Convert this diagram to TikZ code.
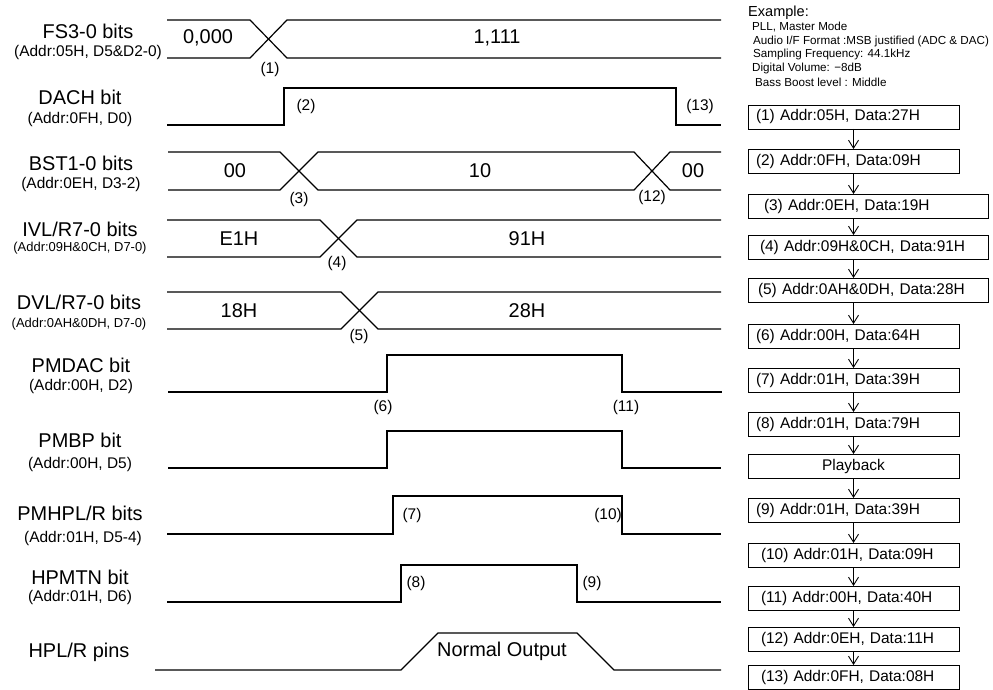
\documentclass[tikz,border=0pt]{standalone}
\usepackage{fontspec}
\setmainfont{Liberation Sans}
\usetikzlibrary{arrows.meta,positioning}

\begin{document}
\begin{tikzpicture}[x=1bp, y=-1bp]
  \tikzstyle{sig} = [line width=1.2bp]
  \tikzstyle{signame} = [font=\fontsize{20}{24}\selectfont, inner sep=0pt]
  \tikzstyle{sigaddr} = [font=\fontsize{15.5}{18}\selectfont, inner sep=0pt]
  \tikzstyle{sigaddrs} = [font=\fontsize{13}{16}\selectfont, inner sep=0pt]
  \tikzstyle{busval} = [font=\fontsize{20}{24}\selectfont, inner sep=0pt]
  \tikzstyle{stepno} = [font=\fontsize{15.5}{18}\selectfont, inner sep=0pt]
  \tikzstyle{exline} = [font=\fontsize{11.7}{14}\selectfont, anchor=west, inner sep=0pt]
  \tikzstyle{regbox} = [draw, line width=0.9bp, outer sep=0pt, minimum height=24bp, text width=195bp, text height=11bp, text depth=3bp, align=left, inner xsep=8bp, inner ysep=0pt, font=\fontsize{15.5}{18}\selectfont]
  \tikzstyle{widebox} = [regbox, text width=224bp]
  \tikzstyle{flow} = [draw, line width=0.9bp, -{Straight Barb[length=8bp,width=10bp]}]

  \useasboundingbox (0,0) rectangle (993,690);

  % signal names
  \node[signame] (fsn) at (88,31) {FS3-0 bits};
  \node[sigaddr] (fsa) at (88,53) {(Addr:05H, D5\&D2-0)};
  \node[signame] (dachn) at (80,97) {DACH bit};
  \node[sigaddr] (dacha) at (80,120) {(Addr:0FH, D0)};
  \node[signame] (bstn) at (81,163) {BST1-0 bits};
  \node[sigaddr] (bsta) at (81,185) {(Addr:0EH, D3-2)};
  \node[signame] (ivln) at (80,229) {IVL/R7-0 bits};
  \node[sigaddrs] (ivla) at (80,248) {(Addr:09H\&0CH, D7-0)};
  \node[signame] (dvln) at (79,302) {DVL/R7-0 bits};
  \node[sigaddrs] (dvla) at (79,324) {(Addr:0AH\&0DH, D7-0)};
  \node[signame] (pmdacn) at (81,365) {PMDAC bit};
  \node[sigaddr] (pmdaca) at (81,387) {(Addr:00H, D2)};
  \node[signame] (pmbpn) at (80,440) {PMBP bit};
  \node[sigaddr] (pmbpa) at (80,465) {(Addr:00H, D5)};
  \node[signame] (pmhpn) at (80,513) {PMHPL/R bits};
  \node[sigaddr] (pmhpa) at (83,538) {(Addr:01H, D5-4)};
  \node[signame] (hpmtnn) at (80,577) {HPMTN bit};
  \node[sigaddr] (hpmtna) at (80,597) {(Addr:01H, D6)};
  \node[signame] (hpln) at (79,652) {HPL/R pins};

  % waveforms
  \draw[sig] (167,20) -- (250,20) -- (287,58) -- (721,58);
  \draw[sig] (167,58) -- (250,58) -- (287,20) -- (721,20);
  \draw[sig] (167,125) -- (284,125) -- (284,88) -- (676,88) -- (676,125) -- (721,125);
  \draw[sig] (168,152) -- (280,152) -- (318,190) -- (634,190) -- (670,152) -- (721,152);
  \draw[sig] (168,190) -- (280,190) -- (318,152) -- (634,152) -- (670,190) -- (721,190);
  \draw[sig] (167,220) -- (320,220) -- (357,257) -- (721,257);
  \draw[sig] (167,257) -- (320,257) -- (357,220) -- (721,220);
  \draw[sig] (167,292) -- (341,292) -- (378,329) -- (721,329);
  \draw[sig] (167,329) -- (341,329) -- (378,292) -- (721,292);
  \draw[sig] (168,392) -- (387,392) -- (387,355) -- (622,355) -- (622,392) -- (722,392);
  \draw[sig] (168,468) -- (387,468) -- (387,431) -- (622,431) -- (622,468) -- (721,468);
  \draw[sig] (167,534) -- (393,534) -- (393,496) -- (622,496) -- (622,534) -- (721,534);
  \draw[sig] (167,602) -- (401,602) -- (401,565) -- (577,565) -- (577,602) -- (721,602);
  \draw[sig] (155,670) -- (401,670) -- (438,633) -- (577,633) -- (614,670) -- (721,670);

  % bus values and step numbers
  \node[busval] (fs0) at (208,38) {0,000};
  \node[busval] (fs1) at (497,38) {1,111};
  \node[stepno] (s1) at (270,70) {(1)};
  \node[stepno] (s2) at (306,107) {(2)};
  \node[stepno] (s13) at (700,107) {(13)};
  \node[busval] (bst0) at (235,171) {00};
  \node[busval] (bst1) at (480,171) {10};
  \node[busval] (bst2) at (693,171) {00};
  \node[stepno] (s3) at (299,200) {(3)};
  \node[stepno] (s12) at (652,198) {(12)};
  \node[busval] (ivl0) at (239,239) {E1H};
  \node[busval] (ivl1) at (527,239) {91H};
  \node[stepno] (s4) at (337,264) {(4)};
  \node[busval] (dvl0) at (239,311) {18H};
  \node[busval] (dvl1) at (527,311) {28H};
  \node[stepno] (s5) at (359,337) {(5)};
  \node[stepno] (s6) at (383,408) {(6)};
  \node[stepno] (s11) at (626,408) {(11)};
  \node[stepno] (s7) at (412,515) {(7)};
  \node[stepno] (s10) at (608,515) {(10)};
  \node[stepno] (s8) at (416,583) {(8)};
  \node[stepno] (s9) at (592,583) {(9)};
  \node[busval] (hpout) at (502,651) {Normal Output};

  % example settings
  \node[exline, font=\fontsize{14.6}{17}\selectfont] (ex) at (748,13) {Example:};
  \node[exline] (ex1) at (752,27) {PLL, Master Mode};
  \node[exline] (ex2) at (753,41) {Audio I/F Format :MSB justified (ADC \& DAC)};
  \node[exline] (ex3) at (753,54) {Sampling Frequency: 44.1kHz};
  \node[exline] (ex4) at (752,68) {Digital Volume: −8dB};
  \node[exline] (ex5) at (755,82) {Bass Boost level : Middle};

  % register sequence
  \node[regbox, anchor=north west] (b1) at (748,105) {(1) Addr:05H, Data:27H};
  \node[regbox, below=20bp of b1.south west, anchor=north west] (b2) {(2) Addr:0FH, Data:09H};
  \node[widebox, below=21bp of b2.south west, anchor=north west] (b3) {\hspace*{8bp}(3) Addr:0EH, Data:19H};
  \node[widebox, below=17bp of b3.south west, anchor=north west] (b4) {\hspace*{4bp}(4) Addr:09H\&0CH, Data:91H};
  \node[widebox, below=19bp of b4.south west, anchor=north west] (b5) {\hspace*{2bp}(5) Addr:0AH\&0DH, Data:28H};
  \node[regbox, below=22bp of b5.south west, anchor=north west] (b6) {(6) Addr:00H, Data:64H};
  \node[regbox, below=20bp of b6.south west, anchor=north west] (b7) {(7) Addr:01H, Data:39H};
  \node[regbox, below=20bp of b7.south west, anchor=north west] (b8) {(8) Addr:01H, Data:79H};
  \node[regbox, align=center, below=18bp of b8.south west, anchor=north west] (play) {Playback};
  \node[regbox, below=20bp of play.south west, anchor=north west] (b9) {(9) Addr:01H, Data:39H};
  \node[regbox, below=21bp of b9.south west, anchor=north west] (b10) {\hspace*{5bp}(10) Addr:01H, Data:09H};
  \node[regbox, below=19bp of b10.south west, anchor=north west] (b11) {\hspace*{5bp}(11) Addr:00H, Data:40H};
  \node[regbox, below=17bp of b11.south west, anchor=north west] (b12) {\hspace*{5bp}(12) Addr:0EH, Data:11H};
  \node[regbox, below=14bp of b12.south west, anchor=north west] (b13) {\hspace*{5bp}(13) Addr:0FH, Data:08H};

  \path[flow] (b1.south) -- (b2.north -| b1.south);
  \path[flow] (b2.south -| b1.south) -- (b3.north -| b1.south);
  \path[flow] (b3.south -| b1.south) -- (b4.north -| b1.south);
  \path[flow] (b4.south -| b1.south) -- (b5.north -| b1.south);
  \path[flow] (b5.south -| b1.south) -- (b6.north -| b1.south);
  \path[flow] (b6.south -| b1.south) -- (b7.north -| b1.south);
  \path[flow] (b7.south -| b1.south) -- (b8.north -| b1.south);
  \path[flow] (b8.south -| b1.south) -- (play.north -| b1.south);
  \path[flow] (play.south -| b1.south) -- (b9.north -| b1.south);
  \path[flow] (b9.south -| b1.south) -- (b10.north -| b1.south);
  \path[flow] (b10.south -| b1.south) -- (b11.north -| b1.south);
  \path[flow] (b11.south -| b1.south) -- (b12.north -| b1.south);
  \path[flow] (b12.south -| b1.south) -- (b13.north -| b1.south);

\end{tikzpicture}
\end{document}
